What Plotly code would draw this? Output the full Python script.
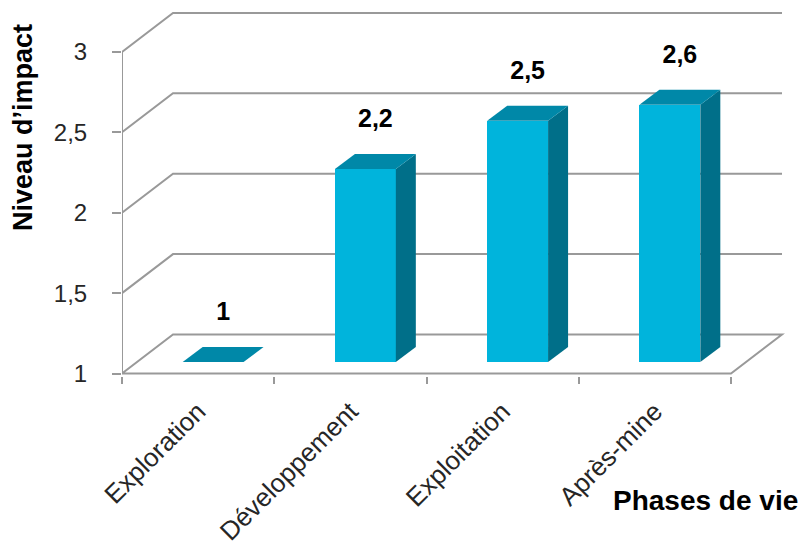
import plotly.graph_objects as go

# ---- data ----
categories = ["Exploration", "Développement", "Exploitation", "Après-mine"]
impact = [1.0, 2.2, 2.5, 2.6]
label_text = ["1", "2,2", "2,5", "2,6"]
y_tickvals = [1, 1.5, 2, 2.5, 3]
y_ticktext = ["1", "1,5", "2", "2,5", "3"]
baseline = 1.0

# ---- geometry / style (pixels -> data units) ----
W, H = 803, 551
PLOT_L, PLOT_R, PLOT_T, PLOT_B = 122, 790, 5, 376
Y1_PX = 373.5          # pixel row of value 1 on the front plane
PXU = 160.8            # pixels per value unit
CAT_PX = 152.25        # pixels per category
FONT = "Liberation Sans, Arial, sans-serif"

def px_x(p):
    return p / CAT_PX

def px_y(p):
    return p / PXU

WALL_DX, WALL_DY = px_x(51), px_y(39)      # back wall depth offset
BAR_SX, BAR_SY = px_x(15), px_y(11.5)      # bar front plane offset
BAR_DX, BAR_DY = px_x(20), px_y(15)        # bar depth
BAR_W = 0.4
LABEL_GAP = px_y(33)

FRONT = "#00B4DC"
TOP = "#0088A8"
SIDE = "#006F89"
GRID = "#999999"

x_range = [-0.5, -0.5 + (PLOT_R - PLOT_L) / CAT_PX]
y_range = [baseline - (PLOT_B - Y1_PX) / PXU, baseline + (Y1_PX - PLOT_T) / PXU]
n = len(categories)
x_left = x_range[0]
x_front_right = x_left + n
x_back_right = x_front_right + WALL_DX

fig = go.Figure()

# front faces as bars
fig.add_trace(go.Bar(
    x=[i + BAR_SX for i in range(n)],
    y=[v - baseline for v in impact],
    base=baseline + BAR_SY,
    width=BAR_W,
    marker=dict(color=FRONT, line=dict(width=0)),
    hoverinfo="skip", showlegend=False,
))

# top and side faces
for i, v in enumerate(impact):
    xl = i + BAR_SX - BAR_W / 2
    xr = i + BAR_SX + BAR_W / 2
    yt = v + BAR_SY
    yb = baseline + BAR_SY
    if v > baseline:
        fig.add_trace(go.Scatter(
            x=[xr, xr + BAR_DX, xr + BAR_DX, xr, xr],
            y=[yb, yb + BAR_DY, yt + BAR_DY, yt, yb],
            mode="lines", fill="toself", fillcolor=SIDE,
            line=dict(width=0, color=SIDE), hoverinfo="skip", showlegend=False,
        ))
    fig.add_trace(go.Scatter(
        x=[xl, xr, xr + BAR_DX, xl + BAR_DX, xl],
        y=[yt, yt, yt + BAR_DY, yt + BAR_DY, yt],
        mode="lines", fill="toself", fillcolor=TOP,
        line=dict(width=0, color=TOP), hoverinfo="skip", showlegend=False,
    ))

# data labels
fig.add_trace(go.Scatter(
    x=[i + BAR_SX + BAR_DX / 2 for i in range(n)],
    y=[v + BAR_SY + BAR_DY + LABEL_GAP for v in impact],
    mode="text", text=[f"<b>{t}</b>" for t in label_text], textposition="middle center",
    textfont=dict(family=FONT, size=25, color="#000000"),
    hoverinfo="skip", showlegend=False, cliponaxis=False,
))

# gridlines (left wall + back wall) and floor
shapes = []
for v in y_tickvals[1:]:
    shapes.append(dict(
        type="path", xref="x", yref="y", layer="below",
        path=f"M {x_left},{v} L {x_left + WALL_DX},{v + WALL_DY} L {x_back_right},{v + WALL_DY}",
        line=dict(color=GRID, width=2),
    ))
shapes.append(dict(
    type="path", xref="x", yref="y", layer="below",
    path=(f"M {x_left},{baseline} L {x_left + WALL_DX},{baseline + WALL_DY} "
          f"L {x_back_right},{baseline + WALL_DY} L {x_front_right},{baseline} Z"),
    line=dict(color=GRID, width=2),
))
shapes.append(dict(
    type="line", xref="x", yref="y", layer="below",
    x0=x_left, x1=x_left, y0=y_tickvals[0], y1=y_tickvals[-1],
    line=dict(color=GRID, width=2),
))

fig.update_layout(
    width=W, height=H, autosize=False,
    margin=dict(l=PLOT_L, r=W - PLOT_R, t=PLOT_T, b=H - PLOT_B, pad=0),
    paper_bgcolor="white", plot_bgcolor="white",
    separators=", ",
    shapes=shapes,
    bargap=0,
    xaxis=dict(
        range=x_range, showgrid=False, zeroline=False, showline=False,
        automargin=False,
        tickmode="array", tickvals=list(range(n)), ticktext=categories,
        tickangle=-45, ticks="", ticklabelstandoff=14,
        tickfont=dict(family=FONT, size=26, color="#262626"),
        minor=dict(tickmode="linear", tick0=-0.5, dtick=1, ticks="outside",
                   ticklen=7, tickwidth=2, tickcolor=GRID, showgrid=False),
        fixedrange=True,
    ),
    yaxis=dict(
        range=y_range, showgrid=False, zeroline=False, showline=False,
        automargin=False,
        tickmode="array", tickvals=y_tickvals, ticktext=y_ticktext,
        ticks="outside", ticklen=9, tickwidth=2, tickcolor=GRID,
        ticklabelstandoff=20,
        tickfont=dict(family=FONT, size=24, color="#262626"),
        fixedrange=True,
    ),
    annotations=[
        dict(text="<b>Niveau d’impact</b>", xref="paper", yref="paper",
             x=(23 - PLOT_L) / (PLOT_R - PLOT_L), y=(PLOT_B - 128) / (PLOT_B - PLOT_T),
             xanchor="center", yanchor="middle", textangle=-90, showarrow=False,
             font=dict(family=FONT, size=27, color="#000000")),
        dict(text="<b>Phases de vie</b>", xref="paper", yref="paper",
             x=(705 - PLOT_L) / (PLOT_R - PLOT_L), y=(PLOT_B - 500) / (PLOT_B - PLOT_T),
             xanchor="center", yanchor="middle", showarrow=False,
             font=dict(family=FONT, size=28, color="#000000")),
    ],
)

fig.write_html("out.html", config={"displayModeBar": False},
               post_script="document.body.style.margin='0';")
